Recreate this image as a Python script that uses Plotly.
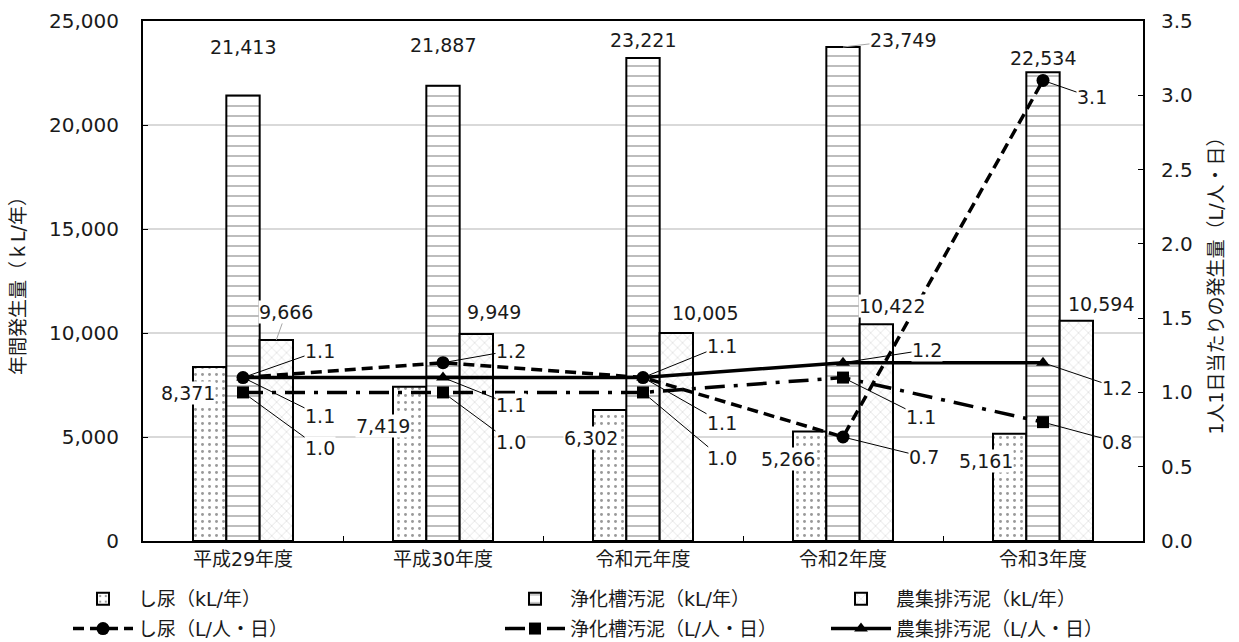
import plotly.graph_objects as go

# ---- data -------------------------------------------------------------
years = ["平成29年度", "平成30年度", "令和元年度", "令和2年度", "令和3年度"]

shinyo_kl = [8371, 7419, 6302, 5266, 5161]          # し尿 (kL/年)
jokaso_kl = [21413, 21887, 23221, 23749, 22534]     # 浄化槽汚泥 (kL/年)
noshu_kl = [9666, 9949, 10005, 10422, 10594]        # 農集排汚泥 (kL/年)

shinyo_lpd = [1.1, 1.2, 1.1, 0.7, 3.1]              # し尿 (L/人・日)
jokaso_lpd = [1.0, 1.0, 1.0, 1.1, 0.8]              # 浄化槽汚泥 (L/人・日)
noshu_lpd = [1.1, 1.1, 1.1, 1.2, 1.2]               # 農集排汚泥 (L/人・日)

# ---- styling ----------------------------------------------------------
FONT = "DejaVu Sans, Noto Sans CJK JP, sans-serif"
TXT = "#1a1a1a"
BAR_W = 33.3  # px width of one bar inside a group

# label offsets (px) of the bar value labels from each bar top, per series
shinyo_lab_off = [(-22, 26), (-27, 39), (-19, 28), (-22, 28), (-24, 27)]
jokaso_lab_off = [(0, -49), (0, -41), (0, -18), (60, -7), (0, -14)]
noshu_lab_off = [(10, -28), (18, -22), (29, -20), (16, -18), (25, -17)]
noshu_leader = [True, False, False, False, False]
jokaso_leader = [False, False, False, True, False]

# label offsets (px) of the per-capita labels from each marker
shinyo_pt_off = [(77, -27), (68, -12), (79, -32), (81, 20), (49, 17)]
jokaso_pt_off = [(77, 56), (68, 50), (79, 66), (78, 39), (74, 20)]
noshu_pt_off = [(77, 38), (68, 27), (79, 45), (84, -13), (74, 25)]

fig = go.Figure()

bar_specs = [
    ("し尿（kL/年）", shinyo_kl, dict(shape=".", size=7, solidity=0.14, fgcolor="#333"), "legend"),
    ("浄化槽汚泥（kL/年）", jokaso_kl, dict(shape="-", size=10, solidity=0.13, fgcolor="#333"), "legend2"),
    ("農集排汚泥（kL/年）", noshu_kl, dict(shape="x", size=7, solidity=0.1, fgcolor="#777"), "legend3"),
]
for name, vals, pat, lg in bar_specs:
    fig.add_trace(go.Bar(
        x=years, y=vals, name=name, legend=lg, legendgroup=name,
        marker=dict(color="white", line=dict(color="black", width=2),
                    pattern=dict(bgcolor="white", **pat)),
    ))

line_specs = [
    ("し尿（L/人・日）", shinyo_lpd, dict(dash="11px,6px"), dict(symbol="circle", size=13), "legend"),
    ("浄化槽汚泥（L/人・日）", jokaso_lpd, dict(dash="20px,9px,4px,9px"), dict(symbol="square", size=12), "legend2"),
    ("農集排汚泥（L/人・日）", noshu_lpd, dict(dash="solid"), dict(symbol="triangle-up", size=12), "legend3"),
]
for name, vals, ln, mk, lg in line_specs:
    fig.add_trace(go.Scatter(
        x=years, y=vals, name=name, yaxis="y2", legend=lg, legendgroup=name,
        mode="lines+markers",
        line=dict(color="black", width=3.5, **ln),
        marker=dict(color="black", **mk),
    ))

# ---- value labels -------------------------------------------------------
annotations = []
label_font = dict(family=FONT, size=19, color=TXT)


def bar_labels(vals, offsets, shift, leaders=None):
    for j, (v, (dx, dy)) in enumerate(zip(vals, offsets)):
        lead = leaders[j] if leaders else False
        ann = dict(x=years[j], y=v, xref="x", yref="y", text=f"{v:,}",
                   bgcolor="white", borderpad=0, font=label_font)
        if lead:
            ann.update(xshift=shift, showarrow=True, ax=dx, ay=dy, arrowhead=0,
                       arrowwidth=1, arrowcolor="#a6a6a6", standoff=0)
        else:
            ann.update(xshift=shift + dx, yshift=-dy, showarrow=False)
        annotations.append(ann)


bar_labels(shinyo_kl, shinyo_lab_off, -BAR_W)
bar_labels(jokaso_kl, jokaso_lab_off, 0, jokaso_leader)
bar_labels(noshu_kl, noshu_lab_off, BAR_W, noshu_leader)


def point_labels(vals, offsets):
    for j, (v, (dx, dy)) in enumerate(zip(vals, offsets)):
        annotations.append(dict(
            x=years[j], y=v, xref="x", yref="y2", text=f"{v:.1f}",
            showarrow=True, ax=dx, ay=dy, arrowhead=0, arrowwidth=1,
            arrowcolor="black", standoff=0, bgcolor="white", borderpad=0,
            font=label_font,
        ))


point_labels(shinyo_lpd, shinyo_pt_off)
point_labels(jokaso_lpd, jokaso_pt_off)
point_labels(noshu_lpd, noshu_pt_off)

# ---- layout ---------------------------------------------------------------
legend_common = dict(
    orientation="v", yanchor="top", xanchor="left", y=-0.075,
    bgcolor="rgba(0,0,0,0)", font=dict(family=FONT, size=19, color=TXT),
    itemwidth=60, tracegroupgap=2,
)

fig.update_layout(
    width=1239, height=642,
    margin=dict(l=143, r=96, t=21, b=101, autoexpand=False),
    paper_bgcolor="white", plot_bgcolor="white",
    font=dict(family=FONT, size=19, color=TXT),
    barmode="group", bargap=0.5, bargroupgap=0,
    annotations=annotations,
    legend=dict(x=-0.075, **legend_common),
    legend2=dict(x=0.357, **legend_common),
    legend3=dict(x=0.683, **legend_common),
    xaxis=dict(
        type="category", showline=True, linecolor="black", linewidth=2,
        mirror=True, ticks="inside", ticklen=5, tickcolor="black",
        tickson="boundaries", tickfont=dict(size=19), showgrid=False,
    ),
    yaxis=dict(
        range=[0, 25000], dtick=5000, tickformat=",",
        showline=True, linecolor="black", linewidth=2,
        ticks="inside", ticklen=5, tickcolor="black",
        gridcolor="#d9d9d9", gridwidth=1.5, zeroline=False,
        ticklabelstandoff=18, tickfont=dict(size=20),
        title=dict(text="年間発生量（ｋL/年）", standoff=18, font=dict(size=19)),
    ),
    yaxis2=dict(
        range=[0, 3.5], dtick=0.5, tickformat=".1f",
        overlaying="y", side="right",
        showline=True, linecolor="black", linewidth=2,
        ticks="inside", ticklen=5, tickcolor="black",
        showgrid=False, zeroline=False, ticklabelstandoff=12,
        tickfont=dict(size=20),
        title=dict(text="1人1日当たりの発生量（L/人・日）", standoff=18, font=dict(size=19)),
    ),
)

fig.write_html("out.html")
